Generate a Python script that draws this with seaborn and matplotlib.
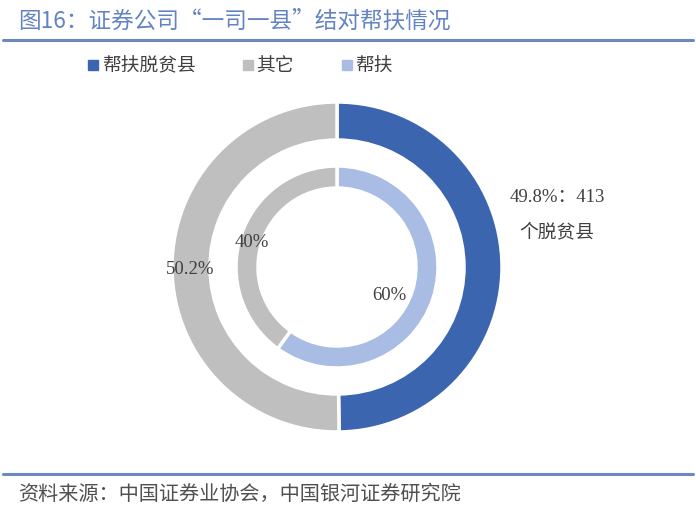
import matplotlib
matplotlib.use("Agg")
import matplotlib.pyplot as plt
import seaborn as sns
from matplotlib.lines import Line2D

sns.set_theme(style="white")
plt.rcParams['font.family'] = ['Noto Sans CJK SC', 'DejaVu Sans']

# data
outer_labels = ["帮扶脱贫县", "其它"]
outer_values = [49.8, 50.2]
inner_labels = ["帮扶", "其它"]
inner_values = [60, 40]
helped_count = 413

title = "图16：证券公司“一司一县”结对帮扶情况"
source = "资料来源：中国证券业协会，中国银河证券研究院"

blue = "#3c65b0"
gray = "#bfbfbf"
light_blue = "#a8bce4"
text_col = "#404040"
line_col = "#6f87bf"

fig = plt.figure(figsize=(6.96, 5.08), dpi=100)
W, H = 696, 508

# donut axes: center (337, 267) px, outer radius 165 px
cx, cy, R = 337, 267, 165
L = 1.2
side = 2 * R * L
ax = fig.add_axes([(cx - side / 2) / W, (H - cy - side / 2) / H, side / W, side / H])

ax.pie(outer_values, radius=1.0, colors=[blue, gray], startangle=90, counterclock=False,
       wedgeprops=dict(width=38 / R, edgecolor="white", linewidth=2.5))
ax.pie(inner_values, radius=101 / R, colors=[light_blue, gray], startangle=90, counterclock=False,
       wedgeprops=dict(width=22 / R, edgecolor="white", linewidth=2.5))
ax.set_xlim(-L, L)
ax.set_ylim(-L, L)
ax.set_aspect("equal")
ax.axis("off")


def px(x, y):
    return (x - cx) / R, (cy - y) / R


num_font = ['Liberation Serif', 'Noto Sans CJK SC']
kw = dict(ha="center", va="center", color=text_col, fontsize=13.5, family=num_font)
ax.text(*px(557, 197), f"{outer_values[0]}%：{helped_count}", **kw)
ax.text(*px(557, 232), "个脱贫县", **kw)
ax.text(*px(190, 270), f"{outer_values[1]}%", **kw)
ax.text(*px(252, 242), f"{inner_values[1]}%", **kw)
ax.text(*px(389, 296), f"{inner_values[0]}%", **kw)

# title and rules
fig.text(18 / W, 1 - 21 / H, title, ha="left", va="center", fontsize=16.3, color="#6383c2")
fig.add_artist(Line2D([3 / W, 693 / W], [1 - 40 / H, 1 - 40 / H], color=line_col, linewidth=2.2))
fig.add_artist(Line2D([3 / W, 693 / W], [1 - 474 / H, 1 - 474 / H], color=line_col, linewidth=2.2))
fig.text(18 / W, 1 - 494 / H, source, ha="left", va="center", fontsize=14.5, color="#505050",
         style="italic")

# legend
handles = [Line2D([], [], marker="s", linestyle="none", markersize=7, color=c)
           for c in [blue, gray, light_blue]]
leg = fig.legend(handles, [outer_labels[0], outer_labels[1], inner_labels[0]], ncol=3,
                 loc="center left", bbox_to_anchor=(70 / W, 1 - 66 / H), frameon=False,
                 fontsize=13.5, handlelength=0.7, handletextpad=0.1, columnspacing=2.45)
for t in leg.get_texts():
    t.set_color(text_col)

fig.savefig("out.png", dpi=100)
